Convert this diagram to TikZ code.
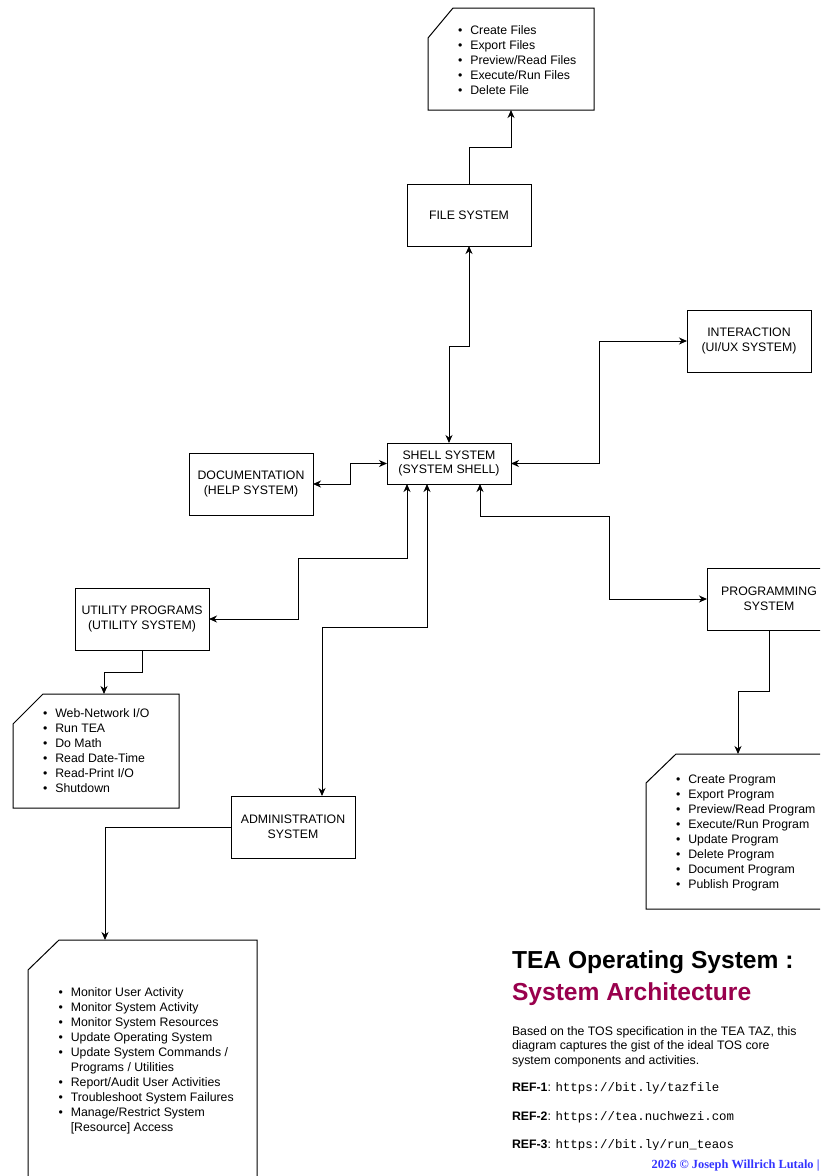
\documentclass[tikz,border=0pt]{standalone}
\usepackage{fontspec}
\setmainfont{Liberation Sans}
\setmonofont{Liberation Mono}
\newfontfamily\footfont{Liberation Serif}
\usetikzlibrary{arrows.meta}
\definecolor{titlepurple}{RGB}{153,0,77}
\definecolor{footblue}{RGB}{51,51,255}
\newcommand{\blist}[1]{{\fontsize{12.3}{15}\selectfont\begin{tabular}{@{}l@{\hspace{8pt}}l@{}}#1\end{tabular}}}
\newcommand{\chamf}[3]{\draw[ln] ([yshift=-#3pt]#1.north west) -- ([xshift=#2pt]#1.north west) -- (#1.north east) -- (#1.south east) -- (#1.south west) -- cycle;}
\newcommand{\urlt}[1]{{\fontsize{12.4}{14}\selectfont\ttfamily #1}}
\begin{document}
\begin{tikzpicture}[x=1pt,y=-1pt,
  every node/.style={inner sep=0pt, outer sep=0pt},
  box/.style={draw, line width=1pt, anchor=north west, align=center, font=\fontsize{12.3}{14.5}\selectfont},
  card/.style={anchor=north west},
  ln/.style={line width=1pt},
  arr/.style={ln, -{Stealth[length=8pt,width=7pt,inset=2.5pt]}},
  arrb/.style={ln, {Stealth[length=8pt,width=7pt,inset=2.5pt]}-{Stealth[length=8pt,width=7pt,inset=2.5pt]}},
  lst/.style={anchor=north west},
  para/.style={anchor=base west, font=\fontsize{12.3}{14.5}\selectfont},
  ttl/.style={anchor=base west, font=\fontsize{24.6}{28}\selectfont\bfseries},
]
\useasboundingbox (0,0) rectangle (820,1176);
\fill[white] (0,0) rectangle (820,1176);
\clip (0,0) rectangle (820,1176);

% main boxes
\node[box, minimum width=124pt, minimum height=62pt] (file) at (407,184) {FILE SYSTEM};
\node[box, minimum width=124pt, minimum height=41pt] (shell) at (387,443) {SHELL SYSTEM\\(SYSTEM SHELL)};
\node[box, minimum width=124pt, minimum height=62pt] (doc) at (189,453) {DOCUMENTATION\\(HELP SYSTEM)};
\node[box, minimum width=124pt, minimum height=62pt] (inter) at (687,310) {INTERACTION\\(UI/UX SYSTEM)};
\node[box, minimum width=124pt, minimum height=62pt] (prog) at (707,568) {PROGRAMMING\\SYSTEM};
\node[box, minimum width=134pt, minimum height=62pt] (util) at (75,588) {UTILITY PROGRAMS\\(UTILITY SYSTEM)};
\node[box, minimum width=124pt, minimum height=62pt] (admin) at (231,796) {ADMINISTRATION\\SYSTEM};

% cards
\node[card, minimum width=166pt, minimum height=102pt] (fc) at (428,8) {};
\chamf{fc}{25}{30}
\node[card, minimum width=184pt, minimum height=155pt] (pc) at (646,754) {};
\chamf{pc}{30}{29}
\node[card, minimum width=166pt, minimum height=114pt] (uc) at (13,694) {};
\chamf{uc}{30}{30}
\node[card, minimum width=229pt, minimum height=260pt] (ac) at (28,940) {};
\chamf{ac}{31}{30}

% lists
\node[lst] (fl) at (458,23.6) {\blist{\textbullet & Create Files\\ \textbullet & Export Files\\ \textbullet & Preview/Read Files\\ \textbullet & Execute/Run Files\\ \textbullet & Delete File}};
\node[lst] (pl) at (676,772.6) {\blist{\textbullet & Create Program\\ \textbullet & Export Program\\ \textbullet & Preview/Read Program\\ \textbullet & Execute/Run Program\\ \textbullet & Update Program\\ \textbullet & Delete Program\\ \textbullet & Document Program\\ \textbullet & Publish Program}};
\node[lst] (ul) at (43,706.6) {\blist{\textbullet & Web-Network I/O\\ \textbullet & Run TEA\\ \textbullet & Do Math\\ \textbullet & Read Date-Time\\ \textbullet & Read-Print I/O\\ \textbullet & Shutdown}};
\node[lst] (al) at (58.5,985.6) {\blist{\textbullet & Monitor User Activity\\ \textbullet & Monitor System Activity\\ \textbullet & Monitor System Resources\\ \textbullet & Update Operating System\\ \textbullet & Update System Commands /\\ & Programs / Utilities\\ \textbullet & Report/Audit User Activities\\ \textbullet & Troubleshoot System Failures\\ \textbullet & Manage/Restrict System\\ & [Resource] Access}};

% connectors
\draw[arr] (file.north) -- ++(0,-37) -| (fc.south);
\draw[arrb] (shell.north) -- ++(0,-97) -| (file.south);
\draw[arrb] (shell.west) -- ++(-37,0) |- (doc.east);
\draw[arrb] (shell.east) -- ++(88,0) |- (inter.west);
\draw[arrb] ([xshift=31pt]shell.south) -- ++(0,32) -- ++(129,0) |- (prog.west);
\draw[arrb] ([xshift=-42pt]shell.south) -- ++(0,74) -- ++(-109,0) |- (util.east);
\draw[arrb] ([xshift=-22pt]shell.south) -- ++(0,143) -| ([xshift=29pt]admin.north);
\draw[arr] (util.south) -- ++(0,22) -| ([xshift=8pt]uc.north);
\draw[arr] (prog.south) -- ++(0,61) -| (pc.north);
\draw[arr] (admin.west) -| ([xshift=-37.5pt]ac.north);

% title and text
\node[ttl] (t1) at (512,968.5) {TEA Operating System :};
\node[ttl, text=titlepurple] (t2) at (512,1000) {System Architecture};
\node[para] (p1) at (512,1035) {Based on the TOS specification in the TEA TAZ, this};
\node[para] (p2) at (512,1049.5) {diagram captures the gist of the ideal TOS core};
\node[para] (p3) at (512,1064) {system components and activities.};
\node[para] (r1) at (512,1091.7) {\textbf{REF-1}: \urlt{https://bit.ly/tazfile}};
\node[para] (r2) at (512,1120) {\textbf{REF-2}: \urlt{https://tea.nuchwezi.com}};
\begin{scope}
\clip (500,1130) rectangle (820,1149.5);
\node[para] (r3) at (512,1148.5) {\textbf{REF-3}: \urlt{https://bit.ly/run\_teaos}};
\end{scope}
\node[anchor=base east, font=\footfont\bfseries\fontsize{12.4}{14}\selectfont, text=footblue] (ft) at (819.5,1168.5) {2026 © Joseph Willrich Lutalo |};
\end{tikzpicture}
\end{document}
